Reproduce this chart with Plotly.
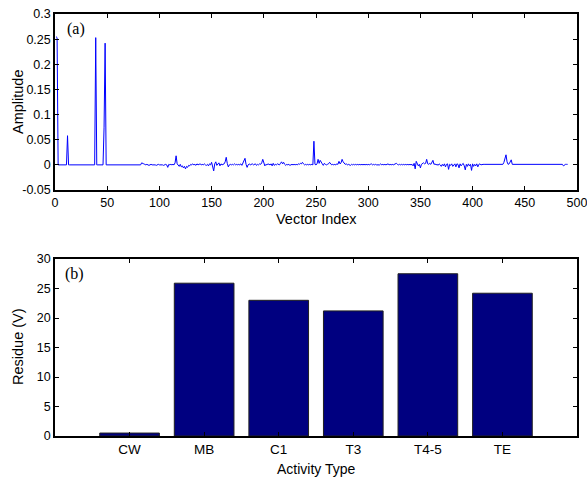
import plotly.graph_objects as go

# ---------------- data ----------------
amplitude = [
    .255, .253, 0, 0, 0, 0, 0, 0, 0, 0, 0, .058, 0, 0, 0, 0, 0, 0, 0, 0,
    0, 0, 0, 0, 0, 0, 0, 0, 0, 0, 0, 0, 0, 0, 0, 0, 0, 0, .253, 0,
    0, 0, 0, 0, 0, 0, .075, .242, 0, 0, 0, 0, 0, 0, 0, 0, 0, 0, 0, 0,
    0, 0, 0, 0, 0, 0, 0, 0, 0, 0, 0, 0, 0, 0, 0, 0, 0, 0, 0, 0,
    0, 0, .004, .002, .002, .001, 0, .001, 0, -.001, 0, .001, 0, 0, .001, 0, -.001, 0, .001, 0,
    0, .001, 0, -.001, 0, .001, 0, -.005, .001, 0, .001, 0, .001, 0, .004, .018, .002, 0, -.003, .001,
    -.004, -.002, -.006, -.003, -.008, -.003, -.005, -.001, -.002, .001, 0, .002, 0, .001, -.001, .002, 0, .001, .002, 0,
    .001, 0, .002, 0, -.001, .001, -.002, .002, 0, .005, -.004, -.012, .002, .006, -.001, .001, .004, -.002, .002, 0,
    .001, .002, .006, .015, .003, -.004, 0, .001, 0, .001, 0, .002, 0, .001, 0, .001, 0, .002, -.001, .004,
    .006, .013, .001, -.005, 0, .002, 0, .001, .002, 0, .001, .002, -.001, .001, 0, .002, .001, .004, .011, .002,
    -.002, .001, 0, .002, .001, 0, .002, -.002, .003, -.001, .001, 0, .002, .001, 0, .003, .006, .002, .005, .001,
    -.001, .001, 0, .001, -.001, 0, .001, 0, .001, 0, .001, 0, .002, .001, .003, .002, .005, .002, 0, .001,
    0, .001, 0, .001, 0, .001, 0, .047, .001, 0, .002, .011, .003, .009, .004, .002, -.001, .003, .001, 0,
    .001, .002, .005, .001, 0, .001, 0, .001, 0, .002, .001, .007, .002, .004, .011, .006, .003, .001, .002, 0,
    .001, 0, -.001, .001, 0, .001, 0, .001, 0, .001, 0, .001, 0, .001, 0, .001, 0, .001, 0, .001,
    0, .001, .002, 0, .001, 0, .001, 0, 0, .001, 0, .002, 0, .001, 0, .001, 0, .001, .002, 0,
    .001, 0, .001, 0, .001, .002, .003, .001, 0, .001, 0, .001, 0, .001, 0, .001, 0, .001, 0, .001,
    0, .001, -.002, .003, -.008, .007, .002, -.002, .001, -.006, .001, .002, .004, .002, .003, .011, .002, .001, .003, .001,
    .004, .009, .001, .002, 0, .001, -.001, .002, 0, -.003, .001, -.002, .002, -.004, .001, .002, -.009, .001, -.001, .002,
    -.003, .001, .002, -.004, .002, .001, -.006, .002, -.002, .001, .003, -.002, -.010, .001, -.003, .002, -.002, .001, -.011, .002,
    -.003, .001, -.002, .002, -.004, .001, .002, 0, .001, .001, .001, .001, .001, .001, .001, .001, .001, .001, .001, .001,
    .001, .001, .001, .001, .001, .001, .001, .001, .001, .005, .012, .020, .006, .001, .002, .006, .010, .001, .001, .001,
    .001, .001, .001, .001, .001, .001, .001, .001, .001, .001, .001, .001, .001, .001, .001, .001, .001, .001, .001, .001,
    .001, .001, .001, .001, .001, .001, .001, .001, .001, .001, .001, .001, .001, .001, .001, .001, .001, .001, .001, .001,
    .001, .001, .001, .001, .001, .001, -.002, 0, .001, .001, .001,
]
vector_index = list(range(1, len(amplitude) + 1))

activity_types = ["CW", "MB", "C1", "T3", "T4-5", "TE"]
activity_pos = [1, 2, 3, 4, 5, 6]
residue = [0.5, 25.9, 23.0, 21.2, 27.5, 24.2]

amp_ticks = [-0.05, 0, 0.05, 0.1, 0.15, 0.2, 0.25, 0.3]
amp_ticktext = ["-0.05", "0", "0.05", "0.1", "0.15", "0.2", "0.25", "0.3"]
idx_ticks = [0, 50, 100, 150, 200, 250, 300, 350, 400, 450, 500]
res_ticks = [0, 5, 10, 15, 20, 25, 30]

# ---------------- figure ----------------
FONT = "Liberation Sans Narrow, Arial Narrow, Liberation Sans, Arial, sans-serif"
SERIF = "Liberation Serif, Times New Roman, serif"

# body margin is removed by the post script, so page pixels == figure pixels
FIG_W, FIG_H = 587, 480
L, R, T, B = 55, 10, 14, 44
H = FIG_H - T - B
W = FIG_W - L - R


def px_x(p):
    return (p - L) / W


def px_y(p):
    return (FIG_H - B - p) / H


fig = go.Figure()
fig.add_trace(go.Scatter(
    x=vector_index, y=amplitude, mode="lines",
    line=dict(color="#0000FF", width=1),
    xaxis="x", yaxis="y", showlegend=False,
))
fig.add_trace(go.Bar(
    x=activity_pos, y=residue, width=0.8,
    marker=dict(color="#000080", line=dict(color="#202020", width=1)),
    xaxis="x2", yaxis="y2", showlegend=False,
))

axis_common = dict(
    showline=True, linecolor="black", linewidth=1.5, mirror="ticks",
    ticks="inside", ticklen=4, tickcolor="black", tickwidth=1,
    showgrid=False, zeroline=False, automargin=False,
    ticklabeloverflow="allow",
    tickfont=dict(family=FONT, size=12.5, color="black"),
)

fig.update_layout(
    width=FIG_W, height=FIG_H,
    margin=dict(l=L, r=R, t=T, b=B, autoexpand=False),
    paper_bgcolor="white", plot_bgcolor="white",
    font=dict(family=FONT, color="black"),
    xaxis=dict(axis_common, domain=[0, 1], range=[0, 500],
               tickvals=idx_ticks, anchor="y"),
    yaxis=dict(axis_common, domain=[px_y(190), 1.0], range=[-0.05, 0.3],
               tickvals=amp_ticks, ticktext=amp_ticktext, anchor="x"),
    xaxis2=dict(axis_common, domain=[0, 1], range=[0, 7],
                tickvals=activity_pos, ticktext=activity_types, anchor="y2",
                tickfont=dict(family=FONT, size=13.5, color="black")),
    yaxis2=dict(axis_common, domain=[0, px_y(259)], range=[0, 30],
                tickvals=res_ticks, anchor="x2"),
    annotations=[
        dict(text="(a)", xref="paper", yref="paper", x=px_x(65), y=px_y(18),
             xanchor="left", yanchor="top", showarrow=False,
             font=dict(family=SERIF, size=16, color="black")),
        dict(text="(b)", xref="paper", yref="paper", x=px_x(63), y=px_y(263),
             xanchor="left", yanchor="top", showarrow=False,
             font=dict(family=SERIF, size=16, color="black")),
        dict(text="Amplitude", xref="paper", yref="paper", x=px_x(18), y=px_y(102),
             xanchor="center", yanchor="middle", textangle=-90, showarrow=False,
             font=dict(family=FONT, size=14.5, color="black")),
        dict(text="Vector Index", xref="paper", yref="paper", x=px_x(316), y=px_y(219),
             xanchor="center", yanchor="middle", showarrow=False,
             font=dict(family=FONT, size=14.5, color="black")),
        dict(text="Residue (V)", xref="paper", yref="paper", x=px_x(18), y=px_y(347),
             xanchor="center", yanchor="middle", textangle=-90, showarrow=False,
             font=dict(family=FONT, size=14.5, color="black")),
        dict(text="Activity Type", xref="paper", yref="paper", x=px_x(316), y=px_y(469),
             xanchor="center", yanchor="middle", showarrow=False,
             font=dict(family=FONT, size=14, color="black")),
    ],
)

fig.write_html(
    "out.html",
    config={"displayModeBar": False},
    post_script="document.body.style.margin='0px';document.body.style.overflow='hidden';",
)
